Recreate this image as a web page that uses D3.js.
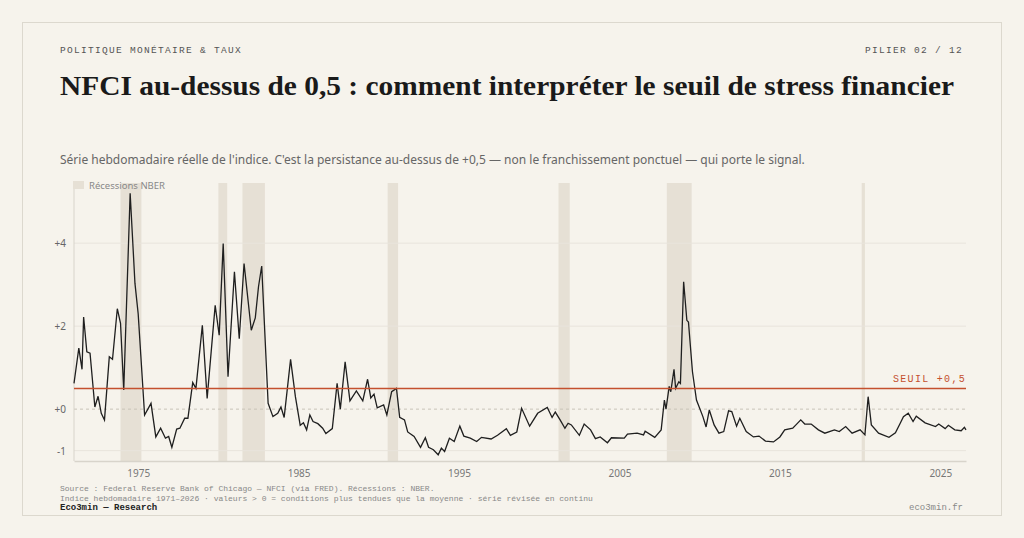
<!DOCTYPE html>
<html><head><meta charset="utf-8">
<script src="https://cdn.jsdelivr.net/npm/d3@7"></script>
<style>
body{margin:0;background:#f6f3ec;}
svg text{font-family:"Liberation Mono","DejaVu Sans Mono",monospace;}
</style></head><body>
<svg id="c" width="1024" height="538"></svg>
<script>
// NFCI weekly as [year, value]
const years = [1971.0,1971.3,1971.5,1971.6,1971.8,1972.0,1972.3,1972.5,1972.7,1972.9,1973.2,1973.4,1973.7,1973.9,1974.1,1974.5,1974.8,1975.0,1975.4,1975.8,1976.1,1976.4,1976.7,1976.9,1977.1,1977.4,1977.6,1977.9,1978.1,1978.4,1978.6,1979.0,1979.3,1979.8,1980.05,1980.3,1980.6,1981.0,1981.3,1981.6,1982.05,1982.3,1982.5,1982.7,1983.1,1983.4,1983.7,1983.9,1984.1,1984.5,1984.8,1985.1,1985.3,1985.5,1985.7,1985.9,1986.2,1986.5,1986.7,1987.1,1987.4,1987.6,1987.9,1988.2,1988.6,1989.0,1989.3,1989.5,1989.7,1989.9,1990.3,1990.5,1990.8,1991.1,1991.3,1991.6,1991.8,1992.2,1992.6,1992.9,1993.1,1993.4,1993.7,1993.9,1994.1,1994.4,1994.7,1995.05,1995.3,1995.7,1996.1,1996.4,1997.0,1997.4,1997.95,1998.2,1998.6,1998.9,1999.4,1999.9,2000.5,2000.8,2001.0,2001.3,2001.6,2001.8,2002.0,2002.5,2002.8,2003.2,2003.5,2003.8,2004.25,2004.5,2005.3,2005.5,2006.1,2006.5,2006.6,2007.2,2007.6,2007.8,2007.9,2008.1,2008.2,2008.4,2008.5,2008.7,2008.8,2009.0,2009.2,2009.3,2009.55,2009.8,2010.2,2010.4,2010.6,2010.9,2011.2,2011.5,2011.8,2012.0,2012.3,2012.5,2012.9,2013.35,2013.7,2014.1,2014.6,2015.0,2015.3,2015.8,2016.0,2016.3,2016.55,2016.95,2017.4,2017.8,2018.4,2018.7,2019.1,2019.5,2020.0,2020.3,2020.5,2020.7,2021.15,2021.8,2022.2,2022.5,2022.7,2023.0,2023.3,2023.5,2024.05,2024.7,2024.9,2025.3,2025.5,2025.9,2026.3,2026.5,2026.6];
const values = [0.62,1.47,0.96,2.22,1.38,1.35,0.05,0.31,-0.1,-0.26,1.26,1.2,2.42,2.07,0.46,5.2,3.03,2.3,-0.14,0.14,-0.67,-0.46,-0.7,-0.66,-0.92,-0.48,-0.46,-0.22,-0.22,0.64,0.5,2.02,0.26,2.5,1.78,3.99,0.78,3.31,1.7,3.51,1.9,2.2,2.95,3.45,0.14,-0.18,-0.1,0.05,-0.2,1.2,0.3,-0.39,-0.33,-0.5,-0.14,-0.3,-0.35,-0.46,-0.59,-0.47,0.62,0.0,1.14,0.2,0.44,0.2,0.72,0.27,0.36,0.03,0.1,-0.14,0.42,0.5,-0.2,-0.26,-0.55,-0.66,-0.92,-0.69,-0.92,-0.98,-1.1,-0.94,-1.02,-0.7,-0.78,-0.41,-0.65,-0.7,-0.78,-0.68,-0.72,-0.63,-0.47,-0.63,-0.55,0.02,-0.41,-0.1,0.04,-0.2,-0.07,-0.26,-0.46,-0.34,-0.38,-0.63,-0.36,-0.5,-0.71,-0.67,-0.81,-0.69,-0.7,-0.6,-0.58,-0.62,-0.53,-0.68,-0.5,0.22,0.0,0.55,0.42,0.96,0.5,0.66,0.62,3.07,2.14,2.1,0.9,0.22,-0.18,-0.43,-0.02,-0.38,-0.58,-0.54,-0.04,-0.06,-0.41,-0.22,-0.54,-0.67,-0.65,-0.77,-0.79,-0.67,-0.5,-0.46,-0.38,-0.26,-0.36,-0.36,-0.5,-0.58,-0.5,-0.54,-0.42,-0.58,-0.5,-0.62,0.3,-0.38,-0.58,-0.68,-0.57,-0.34,-0.18,-0.1,-0.3,-0.17,-0.33,-0.42,-0.36,-0.47,-0.39,-0.5,-0.52,-0.44,-0.5];
const recStart = [1973.9,1980.0,1981.5,1990.55,2001.2,2007.95,2020.1];
const recEnd   = [1975.2,1980.55,1982.9,1991.2,2001.9,2009.5,2020.3];
const yTicks = [-1,0,2,4];
const xTicks = [1975,1985,1995,2005,2015,2025];
const threshold = 0.5;

const data = years.map((y,i)=>({year:y, v:values[i]}));
const svg = d3.select("#c");
svg.append("rect").attr("x",22.5).attr("y",22.5).attr("width",979).attr("height",493)
  .attr("fill","#f6f3ec").attr("stroke","#dcd8ce");

// header
svg.append("text").attr("x",60).attr("y",53).attr("font-size",9.5).attr("letter-spacing",1.3)
  .attr("fill","#555").text("POLITIQUE MONÉTAIRE & TAUX");
svg.append("text").attr("x",963).attr("y",53).attr("text-anchor","end").attr("font-size",9.5)
  .attr("letter-spacing",1.3).attr("fill","#555").text("PILIER 02 / 12");
svg.append("text").attr("x",60).attr("y",95).attr("font-size",28).attr("font-weight","bold")
  .style("font-family","'Liberation Serif','DejaVu Serif',serif").attr("fill","#1a1a1a")
  .attr("textLength",894).attr("lengthAdjust","spacingAndGlyphs")
  .text("NFCI au-dessus de 0,5 : comment interpréter le seuil de stress financier");
svg.append("text").attr("x",60).attr("y",164).attr("font-size",12)
  .style("font-family","'Noto Sans',sans-serif").attr("fill","#666")
  .text("Série hebdomadaire réelle de l'indice. C'est la persistance au-dessus de +0,5 — non le franchissement ponctuel — qui porte le signal.");

const m = {l:74, r:966, t:183, b:461};
const x = d3.scaleLinear().domain([1971, 2026.6]).range([m.l, m.r]);
const y = d3.scaleLinear().domain([-1.25, 5.45]).range([m.b, m.t]);

// recessions
svg.append("g").selectAll("rect").data(recStart).join("rect")
  .attr("x",(d)=>x(d)).attr("width",(d,i)=>x(recEnd[i])-x(d))
  .attr("y",m.t).attr("height",m.b-m.t).attr("fill","#e6e0d5");

// grid
svg.append("g").selectAll("line").data(yTicks).join("line")
  .attr("x1",m.l).attr("x2",m.r).attr("y1",(d)=>y(d)).attr("y2",(d)=>y(d))
  .attr("stroke",(d)=>d===0?"#c8c3b8":"#e8e4dc")
  .attr("stroke-dasharray",(d)=>d===0?"3,3":null);
svg.append("g").selectAll("text").data(yTicks).join("text")
  .attr("x",66).attr("y",(d)=>y(d)+4).attr("text-anchor","end").attr("font-size",10)
  .style("font-family","'Noto Sans',sans-serif").attr("fill","#666")
  .text((d)=>d>=0?"+"+d:d);

// axes lines
svg.append("line").attr("x1",m.l).attr("x2",m.l).attr("y1",m.t).attr("y2",m.b).attr("stroke","#d8d4cb");
const xAxis = svg.append("g").attr("transform",`translate(0,${m.b})`)
  .call(d3.axisBottom(x).tickValues(xTicks).tickFormat(d3.format("d")).tickSize(0).tickPadding(9));
xAxis.select(".domain").attr("stroke","#d8d4cb").attr("stroke-width",1.5);
xAxis.selectAll("text").attr("font-size",10).attr("fill","#777")
  .style("font-family","'Liberation Sans Narrow','Noto Sans',sans-serif");

// line
svg.append("path").datum(data).attr("fill","none").attr("stroke","#1f1f1f").attr("stroke-width",1.3)
  .attr("d",d3.line().x((d)=>x(d.year)).y((d)=>y(d.v)));

// threshold
svg.append("line").attr("x1",m.l).attr("x2",m.r).attr("y1",y(threshold)).attr("y2",y(threshold))
  .attr("stroke","#c4502e").attr("stroke-width",1.5);
svg.append("text").attr("x",m.r).attr("y",y(threshold)-6).attr("text-anchor","end")
  .attr("font-size",10).attr("letter-spacing",1.3).attr("fill","#c4502e").text("SEUIL +0,5");

// legend
svg.append("rect").attr("x",73).attr("y",181).attr("width",11).attr("height",8).attr("fill","#e6e0d5");
svg.append("text").attr("x",89).attr("y",188.5).attr("font-size",9.5)
  .style("font-family","'Noto Sans',sans-serif").attr("fill","#888").text("Récessions NBER");

// footer
svg.append("text").attr("x",60).attr("y",491).attr("font-size",8).attr("fill","#888")
  .text("Source : Federal Reserve Bank of Chicago — NFCI (via FRED). Récessions : NBER.");
svg.append("text").attr("x",60).attr("y",501).attr("font-size",8).attr("fill","#888")
  .text("Indice hebdomadaire 1971–2026 · valeurs > 0 = conditions plus tendues que la moyenne · série révisée en continu");
svg.append("text").attr("x",60).attr("y",510).attr("font-size",9).attr("font-weight","bold").attr("fill","#222")
  .text("Eco3min — Research");
svg.append("text").attr("x",963).attr("y",510).attr("text-anchor","end").attr("font-size",9).attr("fill","#888")
  .text("eco3min.fr");
</script></body></html>
